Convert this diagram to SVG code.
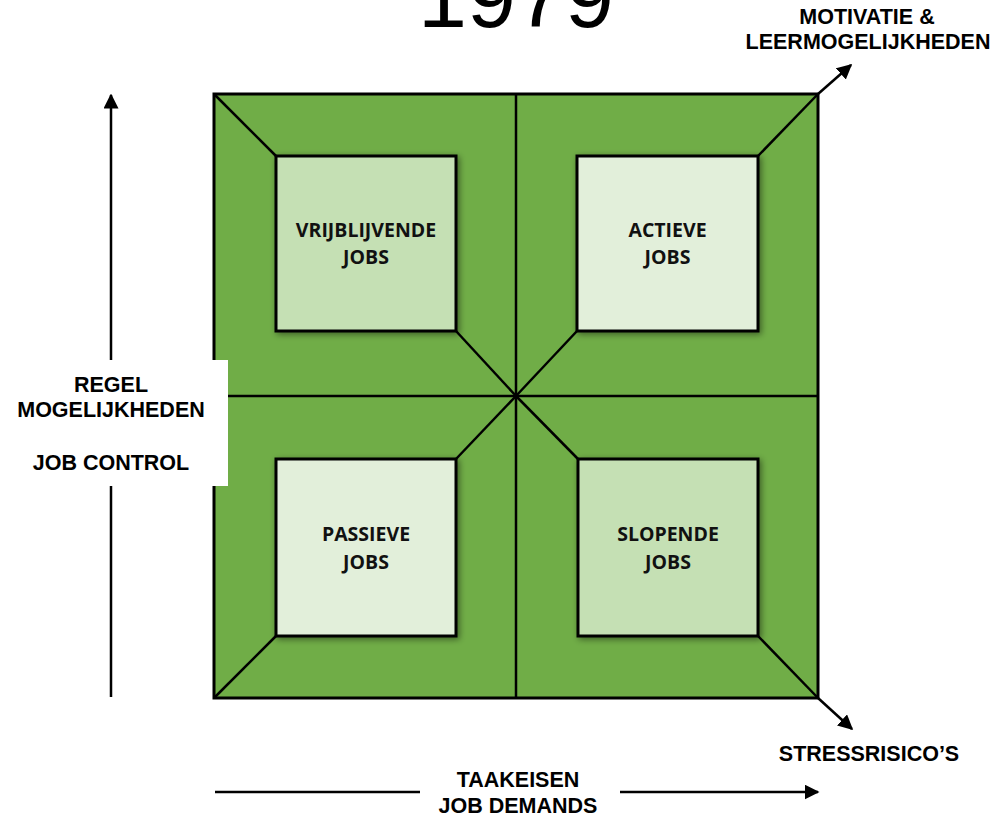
<svg xmlns="http://www.w3.org/2000/svg" width="996" height="819" viewBox="0 0 996 819">
  <style>
    .lbl { font-family: "Liberation Sans", Arial, sans-serif; font-weight: bold; font-size: 21.5px; fill: #000; text-anchor: middle; }
    .box-t { font-family: "Open Sans", "Noto Sans", sans-serif; font-weight: bold; font-size: 19.5px; fill: #111; text-anchor: middle; }
    .year { font-family: "Liberation Sans", Arial, sans-serif; font-size: 88px; fill: #000; text-anchor: middle; }
    .ln { stroke: #000; stroke-width: 2.5; fill: none; }
    .box { stroke: #000; stroke-width: 3; filter: url(#sh); }
    .dark { fill: #C5E0B4; }
    .light { fill: #E2EFDA; }
    .arr { stroke: #000; stroke-width: 2.5; fill: none; marker-end: url(#ah); }
  </style>
  <defs>
    <marker id="ah" viewBox="0 0 10 10" refX="9" refY="5" markerWidth="6" markerHeight="6" markerUnits="strokeWidth" orient="auto">
      <path d="M0,0 L10,5 L0,10 Z" fill="#000"/>
    </marker>
    <filter id="sh" x="-20%" y="-20%" width="140%" height="140%">
      <feDropShadow dx="2" dy="2" stdDeviation="3" flood-color="#000" flood-opacity="0.45"/>
    </filter>
  </defs>
  <rect width="996" height="819" fill="#fff"/>

  <text class="year" x="516" y="27">1979</text>

  <g id="matrix">
    <rect x="214" y="94" width="604" height="604" fill="#70AD47" stroke="#000" stroke-width="3"/>
  </g>

  <g id="connectors">
    <line class="ln" x1="516" y1="94" x2="516" y2="698"/>
    <line class="ln" x1="214" y1="396" x2="818" y2="396"/>
    <line class="ln" x1="214" y1="94" x2="276" y2="156"/>
    <line class="ln" x1="818" y1="94" x2="758" y2="156"/>
    <line class="ln" x1="214" y1="698" x2="276" y2="636"/>
    <line class="ln" x1="818" y1="698" x2="758" y2="636"/>
    <line class="ln" x1="456" y1="331" x2="516" y2="396"/>
    <line class="ln" x1="577" y1="331" x2="516" y2="396"/>
    <line class="ln" x1="456" y1="459" x2="516" y2="396"/>
    <line class="ln" x1="578" y1="459" x2="516" y2="396"/>
    <line class="arr" x1="818" y1="94" x2="851" y2="65"/>
    <line class="arr" x1="818" y1="698" x2="852" y2="729"/>
    <line class="arr" x1="111" y1="697" x2="111" y2="95"/>
    <line class="ln" x1="215" y1="792" x2="420" y2="792"/>
    <line class="arr" x1="620" y1="792" x2="818" y2="792"/>
  </g>

  <g id="vrijblijvende">
    <rect class="box dark" x="276" y="156" width="180" height="175"/>
    <text class="box-t" x="366" y="237">VRIJBLIJVENDE</text>
    <text class="box-t" x="366" y="264">JOBS</text>
  </g>
  <g id="actieve">
    <rect class="box light" x="577" y="156" width="181" height="175"/>
    <text class="box-t" x="667.5" y="237">ACTIEVE</text>
    <text class="box-t" x="667.5" y="264">JOBS</text>
  </g>
  <g id="passieve">
    <rect class="box light" x="276" y="459" width="180" height="177"/>
    <text class="box-t" x="366" y="541">PASSIEVE</text>
    <text class="box-t" x="366" y="569">JOBS</text>
  </g>
  <g id="slopende">
    <rect class="box dark" x="578" y="459" width="180" height="177"/>
    <text class="box-t" x="668" y="541">SLOPENDE</text>
    <text class="box-t" x="668" y="569">JOBS</text>
  </g>

  <g id="job-control">
    <rect x="0" y="360" width="228" height="126" fill="#fff"/>
    <text class="lbl" x="111" y="392">REGEL</text>
    <text class="lbl" x="111" y="417">MOGELIJKHEDEN</text>
    <text class="lbl" x="111" y="470">JOB CONTROL</text>
  </g>

  <g id="motivatie">
    <text class="lbl" x="867" y="24">MOTIVATIE &amp;</text>
    <text class="lbl" x="868" y="49">LEERMOGELIJKHEDEN</text>
  </g>

  <g id="stressrisicos">
    <text class="lbl" x="869" y="761">STRESSRISICO’S</text>
  </g>

  <g id="job-demands">
    <text class="lbl" x="518" y="787">TAAKEISEN</text>
    <text class="lbl" x="518" y="813">JOB DEMANDS</text>
  </g>
</svg>
